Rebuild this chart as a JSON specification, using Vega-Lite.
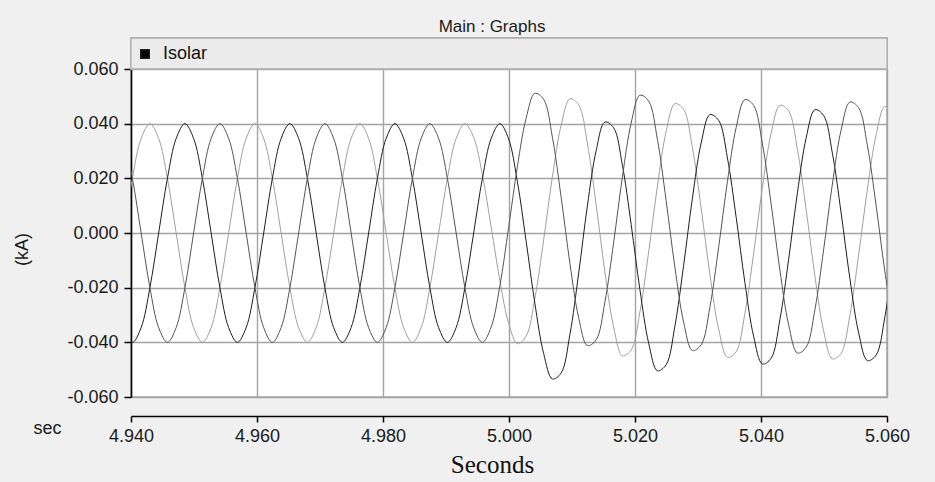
{
  "$schema": "https://vega.github.io/schema/vega-lite/v6.json",
  "width": 756,
  "height": 328,
  "autosize": {"type": "none"},
  "padding": {"left": 131, "top": 69, "right": 48, "bottom": 85},
  "background": "#f0f0f0",
  "config": {
    "view": {"stroke": "#a9a9a9", "strokeWidth": 1.5, "fill": "#ffffff"},
    "font": "Liberation Sans"
  },
  "title": {
    "text": "Main : Graphs",
    "font": "Liberation Sans",
    "fontSize": 17,
    "fontWeight": "normal",
    "color": "#1a1a1a",
    "anchor": "middle",
    "frame": "group",
    "dx": -17,
    "offset": 2
  },
  "data": {
    "values": [
      {"t": 4.93883, "a": 0, "b": -0.0346, "c": 0.0346},
      {"t": 4.94022, "a": 0.02, "b": -0.04, "c": 0.02},
      {"t": 4.94161, "a": 0.0346, "b": -0.0346, "c": 0},
      {"t": 4.943, "a": 0.04, "b": -0.02, "c": -0.02},
      {"t": 4.94439, "a": 0.0346, "b": 0, "c": -0.0346},
      {"t": 4.94578, "a": 0.02, "b": 0.02, "c": -0.04},
      {"t": 4.94717, "a": 0, "b": 0.0346, "c": -0.0346},
      {"t": 4.94856, "a": -0.02, "b": 0.04, "c": -0.02},
      {"t": 4.94994, "a": -0.0346, "b": 0.0346, "c": 0},
      {"t": 4.95133, "a": -0.04, "b": 0.02, "c": 0.02},
      {"t": 4.95272, "a": -0.0346, "b": 0, "c": 0.0346},
      {"t": 4.95411, "a": -0.02, "b": -0.02, "c": 0.04},
      {"t": 4.9555, "a": 0, "b": -0.0346, "c": 0.0346},
      {"t": 4.95689, "a": 0.02, "b": -0.04, "c": 0.02},
      {"t": 4.95828, "a": 0.0346, "b": -0.0346, "c": 0},
      {"t": 4.95967, "a": 0.04, "b": -0.02, "c": -0.02},
      {"t": 4.96106, "a": 0.0346, "b": 0, "c": -0.0346},
      {"t": 4.96244, "a": 0.02, "b": 0.02, "c": -0.04},
      {"t": 4.96383, "a": 0, "b": 0.0346, "c": -0.0346},
      {"t": 4.96522, "a": -0.02, "b": 0.04, "c": -0.02},
      {"t": 4.96661, "a": -0.0346, "b": 0.0346, "c": 0},
      {"t": 4.968, "a": -0.04, "b": 0.02, "c": 0.02},
      {"t": 4.96939, "a": -0.0346, "b": 0, "c": 0.0346},
      {"t": 4.97078, "a": -0.02, "b": -0.02, "c": 0.04},
      {"t": 4.97217, "a": 0, "b": -0.0346, "c": 0.0346},
      {"t": 4.97356, "a": 0.02, "b": -0.04, "c": 0.02},
      {"t": 4.97494, "a": 0.0346, "b": -0.0346, "c": 0},
      {"t": 4.97633, "a": 0.04, "b": -0.02, "c": -0.02},
      {"t": 4.97772, "a": 0.0346, "b": 0, "c": -0.0346},
      {"t": 4.97911, "a": 0.02, "b": 0.02, "c": -0.04},
      {"t": 4.9805, "a": 0, "b": 0.0346, "c": -0.0346},
      {"t": 4.98189, "a": -0.02, "b": 0.04, "c": -0.02},
      {"t": 4.98328, "a": -0.0346, "b": 0.0346, "c": 0},
      {"t": 4.98467, "a": -0.04, "b": 0.02, "c": 0.02},
      {"t": 4.98606, "a": -0.0346, "b": 0, "c": 0.0346},
      {"t": 4.98744, "a": -0.02, "b": -0.02, "c": 0.04},
      {"t": 4.98883, "a": 0, "b": -0.0346, "c": 0.0346},
      {"t": 4.99022, "a": 0.02, "b": -0.04, "c": 0.02},
      {"t": 4.99161, "a": 0.0346, "b": -0.0346, "c": 0},
      {"t": 4.993, "a": 0.04, "b": -0.02, "c": -0.02},
      {"t": 4.99439, "a": 0.035, "b": 0, "c": -0.0346},
      {"t": 4.99578, "a": 0.0213, "b": 0.02, "c": -0.04},
      {"t": 4.99717, "a": 0.0022, "b": 0.0346, "c": -0.0344},
      {"t": 4.99856, "a": -0.0175, "b": 0.04, "c": -0.0192},
      {"t": 4.99994, "a": -0.033, "b": 0.0344, "c": 0.002},
      {"t": 5.00133, "a": -0.0405, "b": 0.0188, "c": 0.0243},
      {"t": 5.00272, "a": -0.0377, "b": -0.003, "c": 0.042},
      {"t": 5.00411, "a": -0.0238, "b": -0.0258, "c": 0.0511},
      {"t": 5.0055, "a": -0.0026, "b": -0.0441, "c": 0.0489},
      {"t": 5.00689, "a": 0.0206, "b": -0.0534, "c": 0.035},
      {"t": 5.00828, "a": 0.0394, "b": -0.0512, "c": 0.013},
      {"t": 5.00967, "a": 0.0491, "b": -0.0371, "c": -0.0111},
      {"t": 5.01106, "a": 0.0469, "b": -0.0147, "c": -0.031},
      {"t": 5.01244, "a": 0.0328, "b": 0.0099, "c": -0.0412},
      {"t": 5.01383, "a": 0.0104, "b": 0.0301, "c": -0.0391},
      {"t": 5.01522, "a": -0.0142, "b": 0.0406, "c": -0.0253},
      {"t": 5.01661, "a": -0.0344, "b": 0.0385, "c": -0.0035},
      {"t": 5.018, "a": -0.0449, "b": 0.0248, "c": 0.0205},
      {"t": 5.01939, "a": -0.0428, "b": 0.0031, "c": 0.0402},
      {"t": 5.02078, "a": -0.0289, "b": -0.0207, "c": 0.0504},
      {"t": 5.02217, "a": -0.0069, "b": -0.0403, "c": 0.0482},
      {"t": 5.02356, "a": 0.0172, "b": -0.0504, "c": 0.0342},
      {"t": 5.02494, "a": 0.0371, "b": -0.0482, "c": 0.0119},
      {"t": 5.02633, "a": 0.0473, "b": -0.0341, "c": -0.0125},
      {"t": 5.02772, "a": 0.0452, "b": -0.0118, "c": -0.0326},
      {"t": 5.02911, "a": 0.0312, "b": 0.0127, "c": -0.043},
      {"t": 5.0305, "a": 0.0091, "b": 0.0329, "c": -0.0409},
      {"t": 5.03189, "a": -0.0152, "b": 0.0433, "c": -0.0271},
      {"t": 5.03328, "a": -0.0352, "b": 0.0412, "c": -0.0052},
      {"t": 5.03467, "a": -0.0455, "b": 0.0275, "c": 0.0188},
      {"t": 5.03606, "a": -0.0434, "b": 0.0057, "c": 0.0386},
      {"t": 5.03744, "a": -0.0295, "b": -0.0181, "c": 0.0488},
      {"t": 5.03883, "a": -0.0075, "b": -0.0378, "c": 0.0467},
      {"t": 5.04022, "a": 0.0166, "b": -0.0479, "c": 0.0327},
      {"t": 5.04161, "a": 0.0365, "b": -0.0458, "c": 0.0106},
      {"t": 5.043, "a": 0.0467, "b": -0.0317, "c": -0.0136},
      {"t": 5.04439, "a": 0.0446, "b": -0.0096, "c": -0.0336},
      {"t": 5.04578, "a": 0.0306, "b": 0.0147, "c": -0.0439},
      {"t": 5.04717, "a": 0.0085, "b": 0.0348, "c": -0.0418},
      {"t": 5.04856, "a": -0.0158, "b": 0.0451, "c": -0.028},
      {"t": 5.04994, "a": -0.0358, "b": 0.043, "c": -0.0061},
      {"t": 5.05133, "a": -0.0461, "b": 0.0292, "c": 0.0179},
      {"t": 5.05272, "a": -0.044, "b": 0.0073, "c": 0.0377},
      {"t": 5.05411, "a": -0.0301, "b": -0.0167, "c": 0.0479},
      {"t": 5.0555, "a": -0.008, "b": -0.0365, "c": 0.0458},
      {"t": 5.05689, "a": 0.0161, "b": -0.0467, "c": 0.0319},
      {"t": 5.05828, "a": 0.036, "b": -0.0446, "c": 0.0099},
      {"t": 5.05967, "a": 0.0463, "b": -0.0306, "c": -0.0142},
      {"t": 5.06106, "a": 0.0442, "b": -0.0086, "c": -0.0341}
    ]
  },
  "resolve": {"axis": {"x": "independent"}},
  "layer": [
    {
      "transform": [{"fold": ["a", "b", "c"], "as": ["phase", "I"]}],
      "mark": {"type": "line", "clip": true, "strokeWidth": 1, "interpolate": "catmull-rom"},
      "encoding": {
        "x": {
          "field": "t",
          "type": "quantitative",
          "scale": {"domain": [4.94, 5.06], "nice": false, "zero": false},
          "axis": {
            "orient": "bottom",
            "values": [4.94, 4.96, 4.98, 5.0, 5.02, 5.04, 5.06],
            "grid": true,
            "gridColor": "#a3a3a3",
            "gridWidth": 1.4,
            "labels": false,
            "ticks": false,
            "domain": false,
            "title": "sec",
            "titleFont": "Liberation Sans",
            "titleFontSize": 18,
            "titleFontWeight": "normal",
            "titleColor": "#1a1a1a",
            "titleX": -84,
            "titleY": 36,
            "titleAlign": "center",
            "titleBaseline": "alphabetic",
            "titleAngle": 0
          }
        },
        "y": {
          "field": "I",
          "type": "quantitative",
          "scale": {"domain": [-0.06, 0.06], "nice": false, "zero": false},
          "axis": {
            "values": [-0.06, -0.04, -0.02, 0, 0.02, 0.04, 0.06],
            "labelExpr": "replace(format(datum.value, '.3f'), '\u2212', '-')",
            "labelFont": "Liberation Sans",
            "labelFontSize": 18,
            "labelColor": "#1a1a1a",
            "labelPadding": 6,
            "labelFlush": false,
            "labelOverlap": false,
            "labelBound": false,
            "tickColor": "#000000",
            "tickSize": 7,
            "tickWidth": 1.5,
            "domainColor": "#000000",
            "domainWidth": 1.5,
            "grid": true,
            "gridColor": "#a3a3a3",
            "gridWidth": 1.4,
            "title": "(kA)",
            "titleFont": "Liberation Sans",
            "titleFontSize": 18,
            "titleFontWeight": "normal",
            "titleColor": "#1a1a1a",
            "titleX": -109,
            "titleY": 180,
            "titleAngle": -90,
            "titleAlign": "center",
            "titleBaseline": "middle"
          }
        },
        "stroke": {
          "field": "phase",
          "type": "nominal",
          "scale": {"domain": ["a", "b", "c"], "range": ["#a0a0a0", "#1e1e1e", "#555555"]},
          "legend": {
            "values": ["b"],
            "labelExpr": "'Isolar'",
            "title": null,
            "orient": "none",
            "legendX": 5,
            "legendY": -24,
            "padding": 0,
            "symbolType": "square",
            "symbolSize": 72,
            "symbolStrokeWidth": 1.5,
            "symbolFillColor": "#000000",
            "labelFont": "Liberation Sans",
            "labelFontSize": 18,
            "labelColor": "#111111",
            "labelOffset": 9,
            "encode": {"symbols": {"update": {"fill": {"value": "#000000"}, "strokeWidth": {"value": 1.5}, "shape": {"value": "square"}}}}
          }
        }
      }
    },
    {
      "mark": {"type": "rect", "fill": "#ebebeb", "stroke": "#b0b0b0", "strokeWidth": 1.2, "clip": false},
      "encoding": {
        "x": {
          "datum": 4.94,
          "type": "quantitative",
          "scale": {"domain": [4.94, 5.06], "nice": false, "zero": false},
          "axis": {
            "orient": "bottom",
            "offset": 19,
            "values": [4.94, 4.96, 4.98, 5.0, 5.02, 5.04, 5.06],
            "format": ".3f",
            "grid": false,
            "labelFont": "Liberation Sans",
            "labelFontSize": 18,
            "labelColor": "#1a1a1a",
            "labelPadding": 5,
            "labelFlush": false,
            "labelOverlap": false,
            "labelBound": false,
            "tickColor": "#000000",
            "tickSize": 6,
            "tickWidth": 1.5,
            "domainColor": "#000000",
            "domainWidth": 1.5,
            "title": "Seconds",
            "titleFont": "Liberation Serif",
            "titleFontSize": 25,
            "titleFontWeight": "normal",
            "titleColor": "#111111",
            "titleX": 361,
            "titleY": 56,
            "titleAlign": "center",
            "titleBaseline": "alphabetic"
          }
        },
        "x2": {"datum": 5.06},
        "y": {"datum": 0.0713, "type": "quantitative", "scale": {"domain": [-0.06, 0.06], "nice": false, "zero": false}},
        "y2": {"datum": 0.0601}
      }
    }
  ]
}
